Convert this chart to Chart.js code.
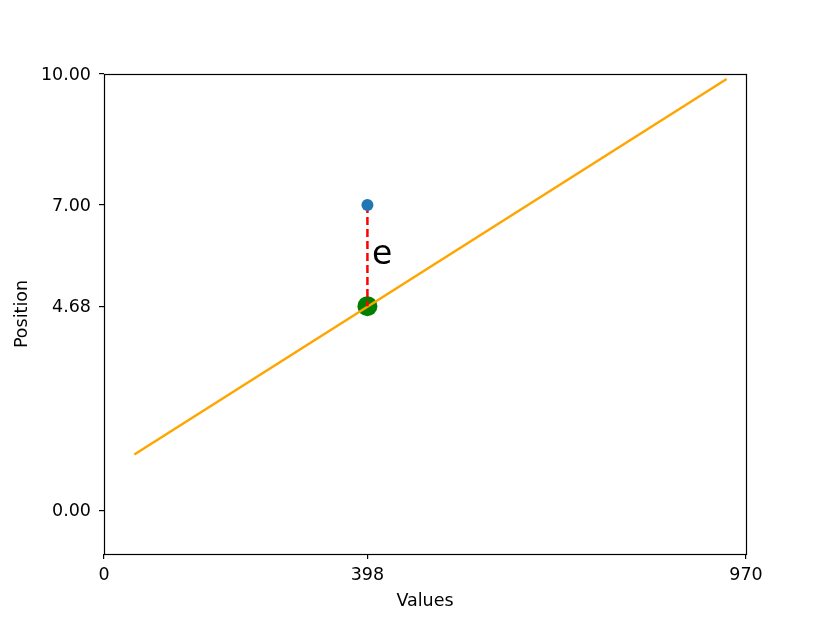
<!DOCTYPE html>
<html>
<head>
<meta charset="utf-8">
<script src="https://cdn.jsdelivr.net/npm/chart.js@4.4.0/dist/chart.umd.min.js"></script>
<style>
  html, body { margin: 0; padding: 0; background: #fff; }
  #wrap { width: 830px; height: 623px; }
</style>
</head>
<body>
<div id="wrap"><canvas id="chartFit"></canvas></div>
<script>
// data
var fitX = [45.8, 940.8];          // fitted line end points (x)
var fitY = [1.28, 9.885];          // fitted line end points (y)
var obsX = [398];                  // observed point
var obsY = [7.0];
var predX = [398];                 // point on the line
var predY = [4.68];
var xTicks = [0, 398, 970];
var yTicks = [0, 4.68, 7, 10];
var labelText = 'e';
var labelPos = [405, 5.85];        // where the residual label sits (data units)

var font = { family: 'DejaVu Sans', size: 17.5 };

// box around the plot area, plus the residual label
var boxPlugin = {
    id: 'boxPlugin',
    afterDraw: function (chart) {
        var ctx = chart.ctx;
        var a = chart.chartArea;
        ctx.save();
        ctx.strokeStyle = '#000';
        ctx.lineWidth = 1.2;
        ctx.strokeRect(Math.round(a.left) + 0.5, Math.round(a.top) + 0.5,
            Math.round(a.right - a.left), Math.round(a.bottom - a.top));
        ctx.fillStyle = '#000';
        ctx.font = '33px "DejaVu Sans"';
        ctx.textBaseline = 'middle';
        ctx.textAlign = 'left';
        ctx.fillText(labelText, chart.scales.x.getPixelForValue(labelPos[0]), chart.scales.y.getPixelForValue(labelPos[1]));
        ctx.restore();
    }
};

var ctx = document.getElementById('chartFit').getContext('2d');
var myChart = new Chart(ctx, {
    type: 'scatter',
    data: {
        datasets: [{
            // observed point (on top)
            data: obsX.map(function (x, i) { return { x: x, y: obsY[i] }; }),
            backgroundColor: '#1f77b4',
            borderColor: '#1f77b4',
            pointRadius: 6,
            borderWidth: 0
        }, {
            // residual, dashed
            data: [{ x: obsX[0], y: obsY[0] }, { x: predX[0], y: predY[0] }],
            showLine: true,
            borderColor: '#ff0000',
            borderWidth: 2.5,
            borderDash: [8, 4],
            pointRadius: 0
        }, {
            // fitted line
            data: fitX.map(function (x, i) { return { x: x, y: fitY[i] }; }),
            showLine: true,
            borderColor: '#ffa500',
            borderWidth: 2.5,
            pointRadius: 0
        }, {
            // predicted point
            data: predX.map(function (x, i) { return { x: x, y: predY[i] }; }),
            backgroundColor: '#008000',
            borderColor: '#008000',
            pointRadius: 10,
            borderWidth: 0
        }]
    },
    options: {
        responsive: true,
        maintainAspectRatio: false,
        animation: false,
        layout: { padding: { top: 74, right: 84, left: 0, bottom: 0 } },
        plugins: { legend: { display: false }, tooltip: { enabled: false } },
        scales: {
            x: {
                type: 'linear',
                min: 0,
                max: 970,
                afterBuildTicks: function (scale) {
                    scale.ticks = xTicks.map(function (v) { return { value: v }; });
                },
                afterFit: function (scale) { scale.height = 69; },
                ticks: { font: font, color: '#000', padding: 6, autoSkip: false, maxRotation: 0,
                    callback: function (v) { return String(v); } },
                grid: { drawOnChartArea: false, drawTicks: true, tickLength: 5, color: '#000', lineWidth: 1.2 },
                border: { display: false },
                title: { display: true, text: 'Values', font: font, color: '#000', padding: { top: 2, bottom: 11 } }
            },
            y: {
                type: 'linear',
                min: -1,
                max: 10,
                afterBuildTicks: function (scale) {
                    scale.ticks = yTicks.map(function (v) { return { value: v }; });
                },
                afterFit: function (scale) { scale.width = 104; },
                ticks: { font: font, color: '#000', padding: 8, autoSkip: false, labelOffset: 1.5,
                    callback: function (v) { return Number(v).toFixed(2); } },
                grid: { drawOnChartArea: false, drawTicks: true, tickLength: 5, color: '#000', lineWidth: 1.2 },
                border: { display: false },
                title: { display: true, text: 'Position', font: font, color: '#000', padding: { top: 12, bottom: 4 } }
            }
        }
    },
    plugins: [boxPlugin]
});
</script>
</body>
</html>
